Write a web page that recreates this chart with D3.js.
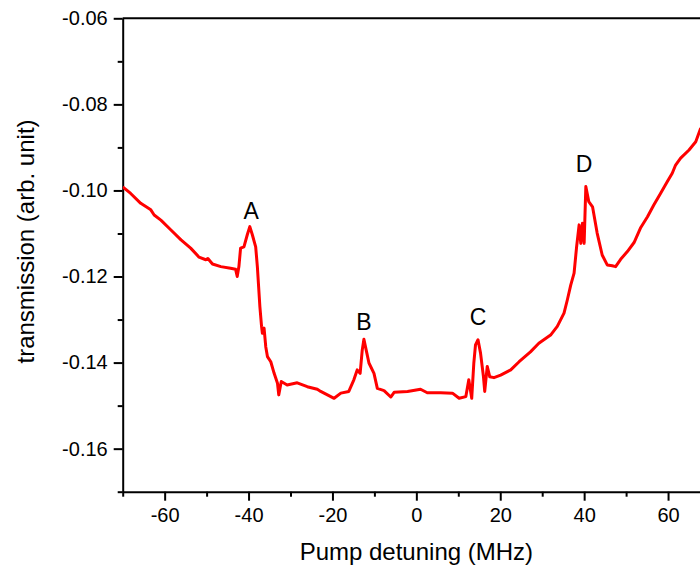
<!DOCTYPE html>
<html>
<head>
<meta charset="utf-8">
<script src="https://cdn.jsdelivr.net/npm/d3@7/dist/d3.min.js"></script>
<style>
  body { margin: 0; background: #fff; }
  svg text { font-family: "Liberation Sans", Arial, sans-serif; fill: #000; }
  .axis path, .axis line { stroke: #000; stroke-width: 2; }
</style>
</head>
<body>
<div class="chart"></div>
<script>

// Trace values (MHz, arb. unit)
var detuning = [
  -70.0, -68.1, -65.7, -63.3, -62.5, -60.9, -58.5, -56.1, -53.8, -51.8,
  -50.2, -49.7, -48.6, -46.6, -44.3, -43.1, -42.7, -42.3, -41.9, -41.1,
  -40.3, -39.7, -39.1, -38.3, -37.9, -37.3, -36.9, -36.7, -36.3, -35.9,
  -35.5, -34.7, -33.9, -33.1, -32.8, -32.2, -30.8, -28.4, -26.0, -23.6,
  -22.8, -19.6, -18.0, -16.1, -14.9, -14.1, -13.4, -12.9, -12.5, -11.8,
  -11.3, -10.1, -9.3, -7.7, -6.1, -5.3, -2.1, 1.0, 2.6, 5.8,
  8.6, 10.2, 11.8, 12.5, 13.2, 13.7, 14.1, 14.7, 15.3, 16.0,
  16.3, 16.9, 17.5, 18.5, 20.1, 22.5, 24.5, 27.2, 29.2, 32.0,
  33.6, 35.2, 36.0, 36.8, 37.6, 38.2, 38.8, 39.2, 39.6, 40.0,
  40.4, 41.1, 42.0, 43.1, 44.3, 45.5, 46.7, 47.5, 48.7, 50.3,
  51.9, 53.5, 55.1, 56.6, 58.2, 59.8, 61.0, 61.8, 63.0, 65.0,
  66.6, 67.8
];

var transmission = [
  -0.0992, -0.1007, -0.1030, -0.1045, -0.1057, -0.1069, -0.1092, -0.1115, -0.1134, -0.1155,
  -0.1161, -0.1158, -0.1171, -0.1177, -0.1181, -0.1183, -0.1200, -0.1177, -0.1134, -0.1131,
  -0.1103, -0.1084, -0.1103, -0.1131, -0.1177, -0.1270, -0.1316, -0.1332, -0.1320, -0.1363,
  -0.1386, -0.1398, -0.1425, -0.1448, -0.1475, -0.1444, -0.1452, -0.1447, -0.1456, -0.1462,
  -0.1467, -0.1483, -0.1471, -0.1467, -0.1440, -0.1417, -0.1425, -0.1371, -0.1346, -0.1378,
  -0.1401, -0.1425, -0.1460, -0.1465, -0.1480, -0.1469, -0.1467, -0.1462, -0.1470, -0.1470,
  -0.1471, -0.1483, -0.1479, -0.1440, -0.1483, -0.1401, -0.1359, -0.1347, -0.1378, -0.1433,
  -0.1467, -0.1409, -0.1433, -0.1435, -0.1429, -0.1417, -0.1398, -0.1375, -0.1355, -0.1336,
  -0.1316, -0.1285, -0.1254, -0.1220, -0.1192, -0.1131, -0.1080, -0.1123, -0.1076, -0.1123,
  -0.0991, -0.1026, -0.1038, -0.1099, -0.1150, -0.1173, -0.1175, -0.1177, -0.1160, -0.1142,
  -0.1121, -0.1086, -0.1061, -0.1034, -0.1007, -0.0980, -0.0960, -0.0941, -0.0925, -0.0906,
  -0.0887, -0.0855
];

// Peak annotations
var peakNames = ["A", "B", "C", "D"];
var peakX = [-39.4, -12.5, 14.7, 40.0];
var peakY = [-0.1066, -0.1324, -0.1312, -0.0956];

// Tick values
var xMajorTicks = [-60, -40, -20, 0, 20, 40, 60];
var xMinorTicks = [-70, -50, -30, -10, 10, 30, 50];
var yMajorTicks = [-0.16, -0.14, -0.12, -0.10, -0.08, -0.06];
var yMinorTicks = [-0.17, -0.15, -0.13, -0.11, -0.09, -0.07];

// Dimensions
var w = 700;
var h = 569;
var margin = {top: 18.3, right: 0, bottom: 77.3, left: 122.7};
var plotWidth = w - margin.left - margin.right;
var plotHeight = h - margin.top - margin.bottom;

// Plain hyphen instead of the unicode minus
var hyphen = function(fmt) {
    return function(d) { return d3.format(fmt)(d).replace("\u2212", "-"); };
};

var svg = d3.select(".chart")
  .append("svg")
  .attr("width", w)
  .attr("height", h);

var g = svg.append("g")
  .attr("transform", "translate(" + margin.left + "," + margin.top + ")");

// Scales
var x = d3.scaleLinear()
  .domain([-70, -70 + plotWidth / 4.195])
  .range([0, plotWidth]);

var y = d3.scaleLinear()
  .domain([-0.17, -0.06])
  .range([plotHeight, 0]);

// Clip the trace to the plot area
g.append("clipPath")
  .attr("id", "plotClip")
  .append("rect")
  .attr("x", 0)
  .attr("y", 0)
  .attr("width", plotWidth)
  .attr("height", plotHeight);

// Minor ticks first, majors with labels on top
g.append("g")
  .attr("class", "axis")
  .attr("transform", "translate(0," + plotHeight + ")")
  .call(d3.axisBottom(x).tickValues(xMinorTicks).tickSize(5).tickFormat(""))
  .select(".domain").remove();

g.append("g")
  .attr("class", "axis")
  .call(d3.axisLeft(y).tickValues(yMinorTicks).tickSize(5).tickFormat(""))
  .select(".domain").remove();

var xAxis = g.append("g")
  .attr("class", "axis")
  .attr("transform", "translate(0," + plotHeight + ")")
  .call(d3.axisBottom(x)
    .tickValues(xMajorTicks)
    .tickSize(9)
    .tickSizeOuter(0)
    .tickPadding(7)
    .tickFormat(hyphen("d")));

xAxis.selectAll("text")
  .style("font-size", "20px");

var yAxis = g.append("g")
  .attr("class", "axis")
  .call(d3.axisLeft(y)
    .tickValues(yMajorTicks)
    .tickSize(9)
    .tickSizeOuter(0)
    .tickPadding(6)
    .tickFormat(hyphen(".2f")));

yAxis.selectAll("text")
  .style("font-size", "20px");

// Top frame line
g.append("line")
  .attr("x1", 0)
  .attr("x2", plotWidth)
  .attr("y1", 0)
  .attr("y2", 0)
  .style("stroke", "#000")
  .style("stroke-width", 2);

// Trace
var line = d3.line()
  .x(function(d, i) { return x(detuning[i]); })
  .y(function(d, i) { return y(transmission[i]); });

g.append("path")
  .datum(detuning)
  .attr("clip-path", "url(#plotClip)")
  .attr("d", line)
  .style("fill", "none")
  .style("stroke", "#ff0000")
  .style("stroke-width", 3)
  .style("stroke-linejoin", "round");

// Peak labels
g.selectAll(".peakLabel")
  .data(peakNames)
  .enter()
  .append("text")
  .attr("class", "peakLabel")
  .attr("x", function(d, i) { return x(peakX[i]); })
  .attr("y", function(d, i) { return y(peakY[i]); })
  .attr("text-anchor", "middle")
  .style("font-size", "23px")
  .text(function(d) { return d; });

// Axis titles
svg.append("text")
  .attr("x", margin.left + x(0))
  .attr("y", 560)
  .attr("text-anchor", "middle")
  .style("font-size", "24px")
  .text("Pump detuning (MHz)");

svg.append("text")
  .attr("transform", "translate(33.5," + 241.5 + ") rotate(-90)")
  .attr("text-anchor", "middle")
  .style("font-size", "24px")
  .text("transmission (arb. unit)");

</script>
</body>
</html>
